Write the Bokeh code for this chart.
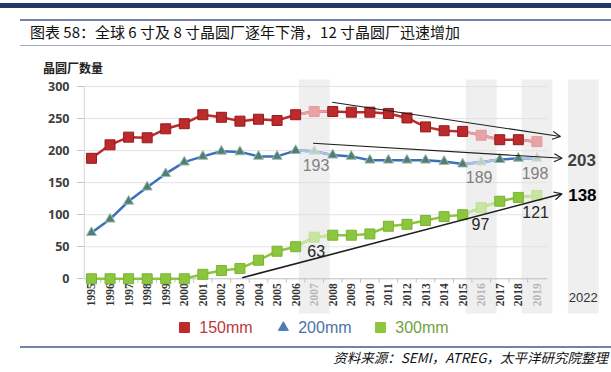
import math
from bokeh.plotting import figure
from bokeh.models import FixedTicker, Arrow, OpenHead, Div, Range1d
from bokeh.layouts import column
from bokeh.core.properties import value
from bokeh.embed import file_html
from bokeh.resources import INLINE

# ---------------- data ----------------
years = [str(y) for y in range(1995, 2020)]
wafer_150 = [188, 209, 221, 220, 234, 242, 256, 252, 246, 249, 247, 256, 261,
             261, 260, 260, 258, 251, 237, 231, 230, 224, 217, 217, 214]
wafer_200 = [72, 93, 121, 143, 164, 182, 191, 199, 198, 191, 191, 200, 199,
             193, 191, 185, 185, 185, 185, 183, 179, 182, 186, 188, 188]
wafer_300 = [0, 0, 0, 0, 0, 0, 7, 13, 16, 29, 43, 50, 65,
             68, 68, 70, 82, 85, 91, 97, 100, 111, 121, 127, 130]
faded_years = ["2007", "2016", "2019"]
future_year = "2022"
y_ticks = [0, 50, 100, 150, 200, 250, 300]

series_names = ["150mm", "200mm", "300mm"]

# labels written on the chart (position in year units, value units)
note_text = ["193", "189", "198", "63", "97", "121"]
note_year = [2007.1, 2015.89, 2018.9, 2007.11, 2015.96, 2018.93]
note_val = [176.8, 158.5, 164.7, 42.9, 85.8, 103.9]
forecast_text = ["203", "138"]
forecast_val = [186, 131.5]

# trend arrows: (start year, start value, end year, end value)
trend_150 = [2007.97, 275.5, 2020.27, 222.0]
trend_200 = [2006.94, 211.5, 2020.36, 188.1]
trend_300 = [2003.12, 1.6, 2020.36, 132.6]

# ---------------- styles ----------------
RED, RED_F, RED_EDGE = "#BE2A2C", "#E8A3A5", "#8E1E20"
BLUE_LINE, BLUE_LINE_F = "#3D6FBE", "#A9C3E0"
BLUE_MK, BLUE_MK_F = "#4E7F72", "#B9CFC8"
GREEN, GREEN_F = "#8CC63E", "#C8E4A2"
BAND = "#EFEFEF"
SANS = "Liberation Sans"

base_year = 1995
xs = [int(y) - base_year for y in years]
future_x = len(years) + 1.5   # the 2022 column sits after a gap
faded_idx = [years.index(y) for y in faded_years]

x_left, x_right = -0.43, 28.02
y_bottom, y_top = -99.4, 317.2

W = 611
p = figure(width=W, height=267, output_backend="svg", toolbar_location=None,
           x_axis_location=None, y_axis_location="left",
           x_range=Range1d(x_left, x_right), y_range=Range1d(y_bottom, y_top),
           min_border_left=83, min_border_right=0, min_border_top=0, min_border_bottom=0)
p.outline_line_color = None
p.grid.visible = False
p.background_fill_color = "white"
p.border_fill_color = "white"

# y axis
ax = p.yaxis[0]
ax.ticker = FixedTicker(ticks=y_ticks)
ax.axis_line_color = None
ax.major_tick_line_color = "#BFBFBF"
ax.major_tick_out = 6
ax.major_tick_in = 0
ax.minor_tick_line_color = None
ax.major_label_standoff = 8
ax.major_label_text_font = "Noto Sans"
ax.major_label_text_font_style = "bold"
ax.major_label_text_font_size = "12.5px"
ax.major_label_text_color = "#404040"

# highlight bands
band_x = faded_idx + [future_x]
p.quad(left=[b - 0.83 for b in band_x], right=[b + 0.83 for b in band_x],
       bottom=-54, top=311, fill_color=BAND, line_color=None)

# grid lines and axis lines
last = len(years) - 1 + 0.57
p.segment(x0=x_left + 0.02, x1=last, y0=y_ticks[1:], y1=y_ticks[1:],
          line_color="#E2E2E2", line_width=1)
p.segment(x0=[x_left + 0.03], x1=[x_left + 0.03], y0=[0], y1=[y_ticks[-1]],
          line_color="#C8C8C8", line_width=1)
p.segment(x0=[x_left + 0.02], x1=[last], y0=[0], y1=[0], line_color="#BFBFBF", line_width=1)
p.segment(x0=[x + 0.5 for x in xs[:-1]], x1=[x + 0.5 for x in xs[:-1]],
          y0=0, y1=-6, line_color="#BFBFBF", line_width=1)

# x category labels
lab_color = ["#B5B5B5" if y in faded_years else "#333333" for y in years]
p.text(x=xs, y=[-7] * len(xs), text=years, angle=math.pi / 2,
       text_align="right", text_baseline="middle", text_color=lab_color,
       text_font=value("Liberation Serif"), text_font_style="bold", text_font_size="11.5px")
p.text(x=[future_x], y=[-29], text=[future_year], text_align="center", text_baseline="middle",
       text_color="#333333", text_font=value(SANS), text_font_size="13px")


def draw_series(vals, col, col_f, mk_col, mk_col_f, marker, size, edge, edge_f, lw):
    p.line(xs, vals, line_color=col, line_width=lw)
    for i in faded_idx:
        segx, segy = [], []
        for j in (i - 1, i, i + 1):
            if 0 <= j < len(xs):
                segx.append(xs[j]); segy.append(vals[j])
        p.line(segx, segy, line_color=col_f, line_width=lw)
    fc = [mk_col_f if y in faded_years else mk_col for y in years]
    ec = [edge_f if y in faded_years else edge for y in years]
    p.scatter(xs, vals, marker=marker, size=size, fill_color=fc, line_color=ec, line_width=1)


draw_series(wafer_150, RED, RED_F, RED, RED_F, "square", 10, RED_EDGE, "#E39A9C", 2.5)
draw_series(wafer_200, BLUE_LINE, BLUE_LINE_F, BLUE_MK, BLUE_MK_F, "triangle", 10, "#9DB8B0", "#D2E0DB", 2.5)
draw_series(wafer_300, GREEN, GREEN_F, GREEN, GREEN_F, "square", 10, "#79B431", "#C0DE98", 2.5)

# trend arrows
for tr, lw in ((trend_150, 1.1), (trend_200, 1.1), (trend_300, 1.6)):
    p.add_layout(Arrow(x_start=tr[0] - base_year, y_start=tr[1],
                       x_end=tr[2] - base_year, y_end=tr[3],
                       line_color="#1E1E1E", line_width=lw,
                       end=OpenHead(size=8, line_color="#1E1E1E", line_width=1.2)))

# notes
note_col = ["#7F7F7F", "#7F7F7F", "#7F7F7F", "#262626", "#262626", "#262626"]
p.text(x=[y - base_year for y in note_year], y=note_val, text=note_text,
       text_align="center", text_baseline="middle", text_color=note_col,
       text_font=value(SANS), text_font_size="16px")
p.text(x=[future_x - 0.08, future_x - 0.05], y=forecast_val, text=forecast_text,
       text_align="center", text_baseline="middle", text_color=["#404040", "#000000"],
       text_font=value(SANS), text_font_style="bold", text_font_size="17px")

# legend (manual)
leg_x = [5.01, 10.34, 15.57]
leg_marker = ["square", "triangle", "square"]
leg_fill = [RED, "#4E7DB3", GREEN]
leg_text_col = ["#C0393B", "#4A72A8", "#6FA23E"]
for lx, mk, fc, tc, nm in zip(leg_x, leg_marker, leg_fill, leg_text_col, series_names):
    p.scatter([lx], [-76], marker=mk, size=10, fill_color=fc, line_color=fc)
    p.text(x=[lx + 0.8], y=[-76], text=[nm], text_align="left", text_baseline="middle",
           text_color=tc, text_font=value(SANS), text_font_size="16px")

header_html = """
<div style="position:relative;width:611px;height:75px;background:white;">
  <div style="position:absolute;left:0;top:3px;width:611px;height:5px;background:#1F3A68;"></div>
  <div style="position:absolute;left:20px;top:19px;width:591px;height:2px;background:#7382AA;"></div>
  <div style="position:absolute;left:30px;top:22px;font-family:'Noto Sans CJK SC';font-size:15px;
              line-height:20px;color:#111;white-space:nowrap;">图表 58：全球 6 寸及 8 寸晶圆厂逐年下滑，12 寸晶圆厂迅速增加</div>
  <div style="position:absolute;left:20px;top:45px;width:591px;height:1px;background:#A4A8C4;"></div>
  <div style="position:absolute;left:43px;top:60px;font-family:'Noto Sans CJK SC';font-size:12px;
              font-weight:bold;line-height:16px;color:#222;white-space:nowrap;">晶圆厂数量</div>
</div>
"""
footer_html = """
<div style="position:relative;width:611px;height:30px;background:white;">
  <div style="position:absolute;left:20px;top:4px;width:591px;height:2px;background:#7382AA;"></div>
  <div style="position:absolute;right:3px;top:7px;font-family:'Noto Sans CJK SC';font-size:13.5px;
              font-style:italic;line-height:16px;color:#111;white-space:nowrap;">资料来源：SEMI，ATREG，太平洋研究院整理</div>
</div>
"""
header = Div(text=header_html, width=W, height=75, margin=0)
footer = Div(text=footer_html, width=W, height=30, margin=0)

layout = column(header, p, footer, spacing=0)
open("out.html", "w").write(file_html(layout, INLINE))
